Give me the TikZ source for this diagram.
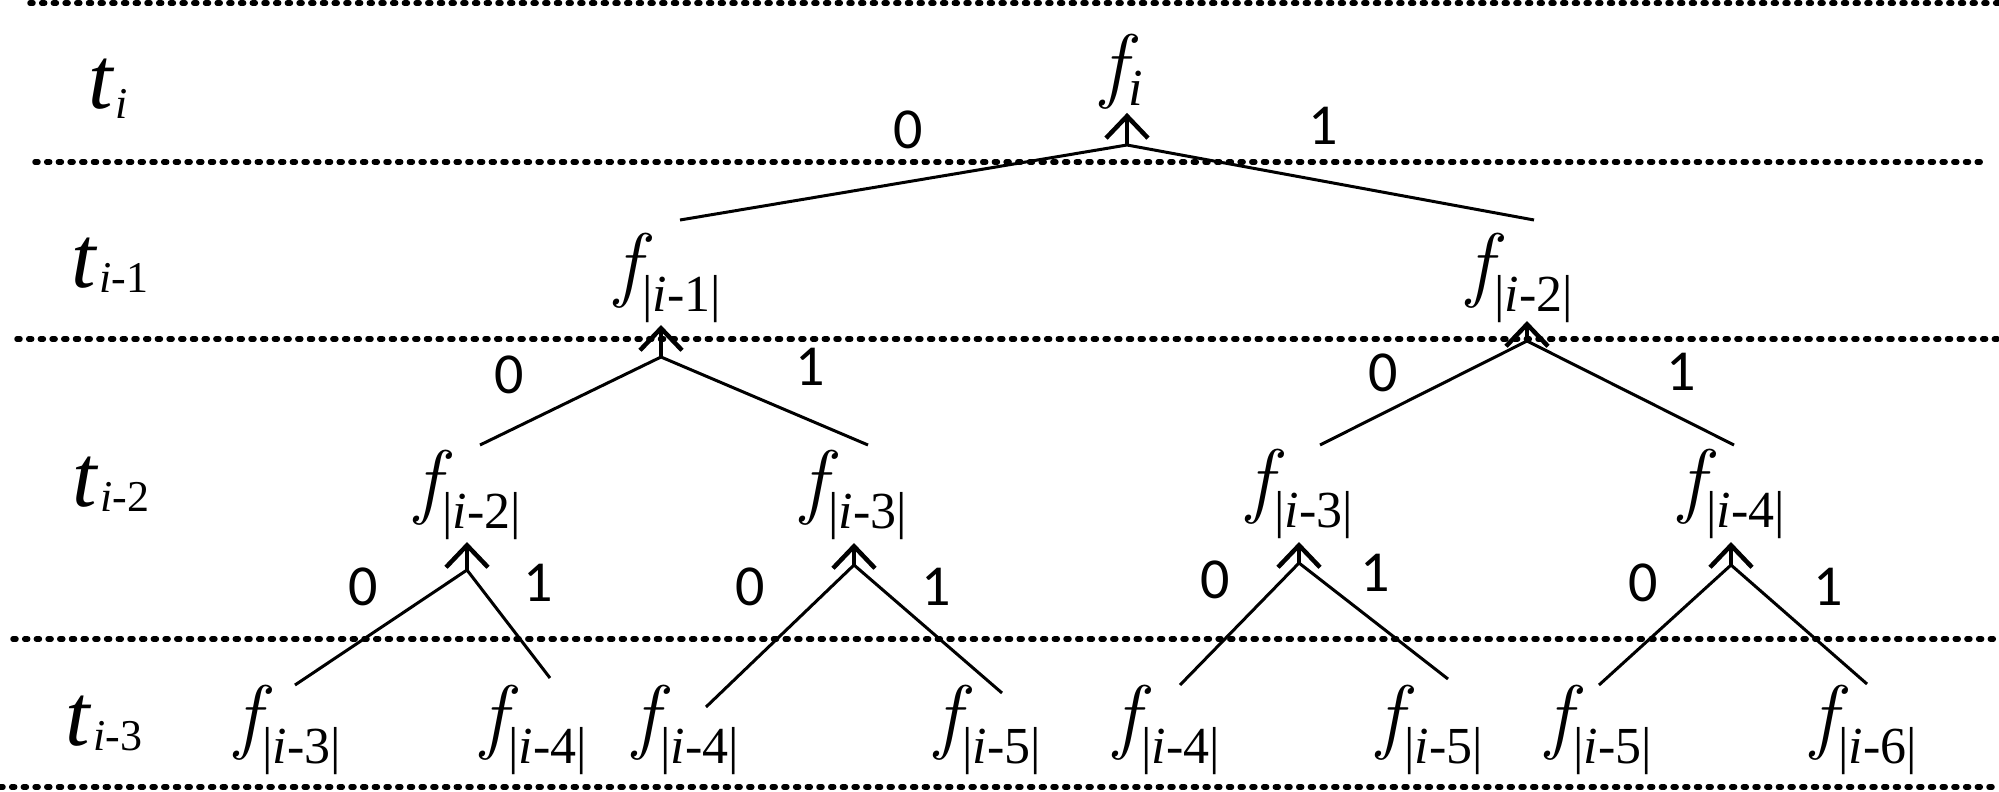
\documentclass[tikz,border=0pt]{standalone}
\usepackage{fontspec}
\setmainfont{Liberation Serif}
\newfontfamily\digitfont{Carlito}
\newfontfamily\lmr{Latin Modern Roman}
\usetikzlibrary{arrows.meta}
\newcommand\fnd[2][-20pt]{\fontsize{83}{90}\selectfont{\lmr\itshape f}\kern2pt\raisebox{#1}{\fontsize{52}{60}\selectfont #2}}
\newcommand\tlab[2][-5pt]{\fontsize{88}{92}\selectfont\textit{t}\kern1pt\raisebox{#1}{\fontsize{44}{48}\selectfont #2}}
\newcommand\subidx[1]{|\textit{i}-#1|}
\begin{document}
\begin{tikzpicture}[x=1pt,y=-1pt,
  fnode/.style={inner sep=0pt},
  tnode/.style={inner sep=0pt},
  bit/.style={inner sep=0pt,font=\digitfont\fontsize{58}{60}\selectfont},
  level/.style={line width=5.5pt,dash pattern=on 3pt off 8.7pt,line cap=round},
  branch/.style={line width=3pt},
  up/.style={line width=4.5pt,-{Straight Barb[length=22pt,width=42pt,line width=4.5pt]}}]
\useasboundingbox (0,0) rectangle (1999,792);
% level separators
\coordinate (l0a) at (30,3);   \coordinate (l0b) at (1999,3);
\coordinate (l1a) at (35,162); \coordinate (l1b) at (1986,162);
\coordinate (l2a) at (17,339); \coordinate (l2b) at (1999,339);
\coordinate (l3a) at (13,639); \coordinate (l3b) at (1999,639);
\coordinate (l4a) at (0,787);  \coordinate (l4b) at (1999,787);
\foreach \k in {0,...,4} \draw[level] (l\k a) -- (l\k b);
% time labels
\node[tnode] (t0) at (108,89) {\tlab[-10pt]{\textit{i}}};
\node[tnode] (t1) at (110,265) {\tlab{\textit{i}-1}};
\node[tnode] (t2) at (111,484) {\tlab{\textit{i}-2}};
\node[tnode] (t3) at (104,723) {\tlab{\textit{i}-3}};
% tree nodes
\node[fnode] (fi) at (1122,72) {\fnd[-13pt]{\textit{i}}};
\node[fnode] (fL) at (668,278) {\fnd{\subidx{1}}};
\node[fnode] (fR) at (1520,278) {\fnd{\subidx{2}}};
\node[fnode] (fa) at (468,495) {\fnd{\subidx{2}}};
\node[fnode] (fb) at (854,495) {\fnd{\subidx{3}}};
\node[fnode] (fc) at (1300,494) {\fnd{\subidx{3}}};
\node[fnode] (fd) at (1732,494) {\fnd{\subidx{4}}};
\node[fnode] (g1) at (288,730) {\fnd{\subidx{3}}};
\node[fnode] (g2) at (534,730) {\fnd{\subidx{4}}};
\node[fnode] (g3) at (686,730) {\fnd{\subidx{4}}};
\node[fnode] (g4) at (988,730) {\fnd{\subidx{5}}};
\node[fnode] (g5) at (1167,730) {\fnd{\subidx{4}}};
\node[fnode] (g6) at (1430,730) {\fnd{\subidx{5}}};
\node[fnode] (g7) at (1599,730) {\fnd{\subidx{5}}};
\node[fnode] (g8) at (1864,730) {\fnd{\subidx{6}}};
% branch apexes
\coordinate (ai) at (1127,145);
\coordinate (aL) at (661,357);
\coordinate (aR) at (1527,341);
\coordinate (aa) at (467,570);
\coordinate (ab) at (854,565);
\coordinate (ac) at (1299,563);
\coordinate (ad) at (1731,565);
% branch ends
\coordinate (eiL) at (680,220);  \coordinate (eiR) at (1534,220);
\coordinate (eLL) at (480,445);  \coordinate (eLR) at (868,445);
\coordinate (eRL) at (1320,445); \coordinate (eRR) at (1734,445);
\coordinate (eaL) at (295,685);  \coordinate (eaR) at (550,678);
\coordinate (ebL) at (706,707);  \coordinate (ebR) at (1002,693);
\coordinate (ecL) at (1180,685); \coordinate (ecR) at (1448,679);
\coordinate (edL) at (1599,685); \coordinate (edR) at (1867,684);
% branches
\foreach \a in {i,L,R,a,b,c,d} \draw[branch] (e\a L) -- (a\a) -- (e\a R);
% arrows up to parent
\draw[up] (ai) -- ([yshift=-3pt]ai |- fi.south);
\draw[up] (aL) -- ([yshift=-2pt]aL |- fL.south);
\draw[up] (aR) -- ([yshift=2pt]aR |- fR.south);
\draw[up] (aa) -- ([yshift=-2pt]aa |- fa.south);
\draw[up] (ab) -- ([yshift=-3pt]ab |- fb.south);
\draw[up] (ac) -- ([yshift=-3pt]ac |- fc.south);
\draw[up] (ad) -- ([yshift=-3pt]ad |- fd.south);
% bit labels
\node[bit] (bi0) at (908,130) {0};  \node[bit] (bi1) at (1323,126) {1};
\node[bit] (bL0) at (509,375) {0};  \node[bit] (bL1) at (810,367) {1};
\node[bit] (bR0) at (1383,373) {0}; \node[bit] (bR1) at (1681,372) {1};
\node[bit] (ba0) at (363,587) {0};  \node[bit] (ba1) at (538,583) {1};
\node[bit] (bb0) at (750,587) {0};  \node[bit] (bb1) at (936,587) {1};
\node[bit] (bc0) at (1215,580) {0}; \node[bit] (bc1) at (1375,573) {1};
\node[bit] (bd0) at (1643,583) {0}; \node[bit] (bd1) at (1828,587) {1};
\end{tikzpicture}
\end{document}
